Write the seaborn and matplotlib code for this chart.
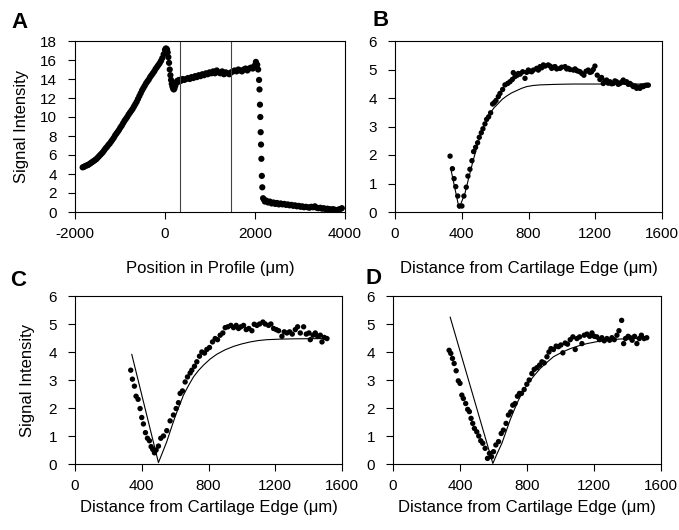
import numpy as np
import pandas as pd
import matplotlib
matplotlib.use("Agg")
import matplotlib.pyplot as plt
import seaborn as sns

# ---------------- Panel A data ----------------
a_x = [-1830, -1800, -1770, -1740, -1710, -1680, -1650, -1620, -1590, -1560, -1530, -1500,
       -1470, -1440, -1410, -1380, -1350, -1320, -1290, -1260, -1230, -1200, -1170, -1140,
       -1110, -1080, -1050, -1020, -990, -960, -930, -900, -870, -840, -810, -780, -750,
       -720, -690, -660, -630, -600, -570, -540, -510, -480, -450, -420, -390, -360, -330,
       -300, -270, -240, -210, -180, -150, -120, -90, -60, -30, 0,
       15, 30, 45, 60, 75, 90, 105, 120, 135, 150, 165, 180, 195, 210, 230, 250, 270, 290, 310, 330,
       350, 390, 430, 470, 510, 550, 590, 630, 670, 710, 750, 790, 830, 870, 910, 950, 990,
       1030, 1070, 1110, 1150, 1190, 1230, 1270, 1310, 1350, 1390, 1430, 1470, 1510, 1550,
       1590, 1630, 1670, 1710, 1750, 1790, 1830, 1870, 1910, 1950, 1990, 2020, 2050, 2070,
       2090, 2100, 2110, 2118, 2126, 2134, 2142, 2152, 2162,
       2180, 2200, 2220, 2250, 2290, 2330, 2370, 2410, 2450, 2490, 2530, 2570, 2610, 2650,
       2690, 2730, 2770, 2810, 2850, 2890, 2930, 2970, 3010, 3050, 3090, 3130, 3170, 3210,
       3250, 3290, 3330, 3370, 3410, 3450, 3490, 3530, 3570, 3610, 3650, 3690, 3730, 3770,
       3810, 3850, 3890, 3930]
a_y = [4.70, 4.75, 4.85, 4.90, 4.95, 5.05, 5.15, 5.25, 5.35, 5.45, 5.55, 5.70,
       5.85, 6.00, 6.15, 6.30, 6.50, 6.70, 6.85, 7.05, 7.20, 7.40, 7.60, 7.80,
       8.05, 8.25, 8.45, 8.65, 8.90, 9.10, 9.35, 9.60, 9.80, 10.00, 10.25, 10.45, 10.65,
       10.85, 11.10, 11.35, 11.60, 11.90, 12.20, 12.50, 12.80, 13.05, 13.30, 13.55, 13.75, 13.95, 14.20,
       14.40, 14.60, 14.80, 15.05, 15.25, 15.45, 15.65, 15.90, 16.20, 16.60, 17.05,
       17.2, 17.2, 17.1, 16.8, 16.3, 15.7, 15.0, 14.4, 13.9, 13.5, 13.2, 13.0, 12.9, 13.0, 13.3, 13.6, 13.8, 13.7, 13.9, 13.9,
       13.8, 14.0, 13.9, 14.0, 14.1, 14.0, 14.2, 14.1, 14.3, 14.2, 14.4, 14.3, 14.5, 14.4, 14.6, 14.5, 14.7,
       14.6, 14.8, 14.6, 14.9, 14.7, 14.6, 14.8, 14.5, 14.7, 14.6, 14.5, 14.7, 14.8, 14.9,
       14.8, 15.0, 14.9, 14.8, 15.0, 15.1, 14.9, 15.1, 15.2, 15.1, 15.4, 15.8, 15.5, 15.0,
       13.9, 12.9, 11.3, 10.0, 8.4, 7.1, 5.6, 3.8, 2.6,
       1.45, 1.3, 1.1, 1.2, 1.0, 1.1, 0.9, 1.0, 0.85, 0.95, 0.8, 0.9, 0.8, 0.85,
       0.75, 0.8, 0.7, 0.75, 0.65, 0.7, 0.6, 0.65, 0.55, 0.6, 0.5, 0.55, 0.5, 0.45,
       0.55, 0.5, 0.6, 0.45, 0.4, 0.45, 0.35, 0.4, 0.3, 0.35, 0.3, 0.25, 0.3, 0.25,
       0.2, 0.25, 0.3, 0.4]
a_vlines = [330, 1470]

# ---------------- Panel B data ----------------
b_x = [330, 344, 354, 364, 376, 386, 401, 413, 427, 437, 449, 461, 471, 483, 495, 505, 517, 527,
       539, 549, 561, 573, 585, 595, 605, 619, 629, 645, 659, 675, 689, 703, 709, 719, 733, 739,
       750, 765, 779, 789, 799, 809, 819, 829, 849, 859, 869, 879, 889, 899, 918, 929, 939, 949,
       959, 969, 989, 999, 1019, 1029, 1039, 1049, 1069, 1079, 1089, 1099, 1109, 1120, 1132,
       1145, 1158, 1168, 1178, 1188, 1198, 1212, 1228, 1238, 1248, 1258, 1268, 1278, 1288, 1298,
       1308, 1318, 1328, 1338, 1348, 1358, 1368, 1378, 1388, 1398, 1408, 1418, 1428, 1438, 1448,
       1458, 1468, 1478, 1488, 1498, 1508, 1518]
b_y = [1.96, 1.52, 1.17, 0.89, 0.56, 0.21, 0.21, 0.56, 0.87, 1.26, 1.50, 1.80, 2.12, 2.27, 2.43, 2.62, 2.78, 2.92,
       3.09, 3.25, 3.34, 3.48, 3.79, 3.84, 3.91, 4.05, 4.16, 4.30, 4.46, 4.51, 4.57, 4.65, 4.89, 4.75, 4.80, 4.86,
       4.84, 4.92, 4.69, 4.90, 4.98, 4.94, 4.92, 4.98, 5.04, 4.98, 5.10, 5.06, 5.16, 5.12, 5.16, 5.12, 5.04, 5.08,
       5.10, 5.02, 5.04, 5.08, 5.10, 5.02, 5.04, 5.00, 4.98, 5.02, 4.96, 4.94, 4.92, 4.86, 4.80,
       4.94, 4.98, 4.90, 4.92, 5.00, 5.12, 4.80, 4.65, 4.72, 4.51, 4.60, 4.63, 4.52, 4.57, 4.50,
       4.51, 4.60, 4.57, 4.48, 4.51, 4.56, 4.63, 4.55, 4.57, 4.48, 4.51, 4.46, 4.40, 4.42, 4.34,
       4.38, 4.34, 4.42, 4.40, 4.44, 4.45, 4.45]
b_fit_x = [336, 384, 419, 444, 469, 494, 519, 544, 569, 594, 619, 644, 669, 699, 729, 759, 789, 829, 869, 969, 1069, 1520]
b_fit_y = [1.47, 0.13, 0.65, 1.25, 1.82, 2.35, 2.82, 3.18, 3.46, 3.66, 3.81, 3.96, 4.07, 4.18, 4.26, 4.34, 4.40, 4.44, 4.46, 4.48, 4.49, 4.49]

# ---------------- Panel C data ----------------
c_x = [334, 344, 356, 366, 378, 390, 400, 410, 422, 434, 446, 456, 466, 476, 486, 500, 514, 530, 550, 570,
       590, 606, 620, 630, 644, 660, 674, 690, 700, 716, 730, 746, 760, 776, 790, 806, 824, 840, 854, 870,
       886, 900, 916, 934, 950, 966, 980, 994, 1010, 1026, 1042, 1060, 1074, 1090, 1106, 1126, 1140, 1160,
       1174, 1190, 1206, 1220, 1240, 1254, 1270, 1286, 1302, 1320, 1334, 1350, 1370, 1386, 1402, 1410, 1426,
       1440, 1454, 1470, 1480, 1494, 1510]
c_y = [3.35, 3.03, 2.78, 2.42, 2.31, 1.98, 1.66, 1.43, 1.12, 0.92, 0.83, 0.62, 0.52, 0.40, 0.50, 0.64, 0.92, 1.00, 1.19, 1.54,
       1.75, 1.98, 2.19, 2.52, 2.61, 2.93, 3.11, 3.25, 3.35, 3.49, 3.65, 3.85, 4.00, 3.96, 4.09, 4.16, 4.36, 4.48, 4.44, 4.60,
       4.68, 4.87, 4.90, 4.95, 4.87, 4.95, 4.84, 4.90, 4.95, 4.80, 4.84, 4.76, 4.99, 4.95, 5.00, 5.07, 5.00, 4.95,
       5.00, 4.84, 4.80, 4.76, 4.56, 4.72, 4.68, 4.72, 4.64, 4.80, 4.90, 4.68, 4.90, 4.64, 4.68, 4.44, 4.60,
       4.68, 4.56, 4.60, 4.36, 4.52, 4.48]
c_fit_x = [340, 500, 525, 550, 575, 600, 625, 650, 680, 710, 740, 770, 810, 850, 900, 950, 1000, 1050, 1100, 1150, 1230, 1310, 1500]
c_fit_y = [3.92, 0.05, 0.42, 0.80, 1.25, 1.69, 2.08, 2.46, 2.80, 3.11, 3.34, 3.53, 3.75, 3.92, 4.08, 4.20, 4.29, 4.36, 4.41, 4.44, 4.46, 4.47, 4.48]

# ---------------- Panel D data ----------------
d_x = [335, 345, 355, 365, 377, 390, 400, 411, 420, 434, 446, 456, 466, 476, 486, 500, 512, 524, 536, 550,
       564, 576, 588, 600, 614, 630, 646, 659, 675, 689, 703, 715, 729, 743, 755, 767, 783, 799, 813, 829,
       843, 859, 875, 889, 903, 919, 931, 943, 958, 974, 988, 1002, 1014, 1028, 1042, 1058, 1074, 1088, 1098,
       1114, 1128, 1142, 1158, 1174, 1188, 1202, 1217, 1233, 1247, 1261, 1277, 1293, 1307, 1321, 1337, 1349,
       1365, 1377, 1388, 1404, 1416, 1428, 1442, 1456, 1470, 1483, 1499, 1515]
d_y = [4.06, 3.95, 3.77, 3.59, 3.33, 2.97, 2.88, 2.46, 2.34, 2.16, 1.95, 1.87, 1.63, 1.45, 1.27, 1.15, 1.00, 0.83, 0.74, 0.56,
       0.20, 0.38, 0.26, 0.44, 0.68, 0.80, 1.09, 1.21, 1.45, 1.75, 1.86, 2.10, 2.16, 2.42, 2.52, 2.52, 2.66, 2.85, 3.00, 3.23,
       3.38, 3.44, 3.53, 3.65, 3.61, 3.83, 4.00, 4.12, 4.09, 4.21, 4.19, 4.25, 3.97, 4.32, 4.28, 4.44, 4.54, 4.09, 4.48,
       4.54, 4.30, 4.60, 4.64, 4.56, 4.68, 4.56, 4.54, 4.44, 4.51, 4.40, 4.48, 4.42, 4.51, 4.44, 4.60, 4.76,
       5.13, 4.30, 4.48, 4.56, 4.51, 4.42, 4.56, 4.30, 4.48, 4.60, 4.48, 4.51]
d_fit_x = [341, 596, 620, 650, 675, 699, 724, 749, 774, 799, 839, 879, 919, 958, 1008, 1058, 1108, 1158, 1218, 1277, 1347, 1417, 1500]
d_fit_y = [5.25, 0.02, 0.35, 0.74, 1.16, 1.57, 1.94, 2.28, 2.57, 2.82, 3.13, 3.41, 3.63, 3.83, 3.99, 4.12, 4.22, 4.30, 4.37, 4.42, 4.46, 4.48, 4.49]

a_xticks = [-2000, 0, 2000, 4000]
a_yticks = [0, 2, 4, 6, 8, 10, 12, 14, 16, 18]
bcd_xticks = [0, 400, 800, 1200, 1600]
bcd_yticks = [0, 1, 2, 3, 4, 5, 6]
xlabel_a = "Position in Profile (\u03bcm)"
xlabel_bcd = "Distance from Cartilage Edge (\u03bcm)"
ylabel = "Signal Intensity"

# ---------------- Style ----------------
sns.set_style("ticks")
plt.rcParams['font.family'] = ['Liberation Sans', 'DejaVu Sans']
plt.rcParams['axes.linewidth'] = 0.8
plt.rcParams['axes.unicode_minus'] = False
plt.rcParams['text.color'] = 'black'
plt.rcParams['axes.labelcolor'] = 'black'
plt.rcParams['xtick.color'] = 'black'
plt.rcParams['ytick.color'] = 'black'
plt.rcParams['axes.edgecolor'] = 'black'

fig = plt.figure(figsize=(6.79, 5.30), dpi=100)
W, H = 679.0, 530.0

def make_ax(l, r, t, b):
    return fig.add_axes([l / W, 1 - b / H, (r - l) / W, (b - t) / H])

axA = make_ax(75, 345, 41, 212)
axB = make_ax(395, 662, 41, 212)
axC = make_ax(75, 342, 296, 464)
axD = make_ax(393, 661, 296, 464)

def style(ax, xlim, ylim, xt, yt):
    ax.set_xlim(*xlim)
    ax.set_ylim(*ylim)
    ax.set_xticks(xt)
    ax.set_yticks(yt)
    for s in ax.spines.values():
        s.set_visible(True)
        s.set_color("black")
        s.set_linewidth(0.8)
    ax.tick_params(axis='both', direction='out', length=5, width=0.8, labelsize=11,
                   colors='black', labelcolor='black')
    ax.tick_params(axis='x', pad=6)
    ax.tick_params(axis='y', pad=8)
    ax.set_facecolor('white')

# Panel A
sns.scatterplot(x=a_x, y=a_y, ax=axA, color='black', s=20, edgecolor='none', linewidth=0)
for v in a_vlines:
    axA.axvline(v, color='#444444', lw=0.8)
style(axA, (-2000, 4000), (0, 18), a_xticks, a_yticks)
axA.set_xlabel(xlabel_a, fontsize=12, labelpad=14, color='black')
axA.set_ylabel(ylabel, fontsize=12, labelpad=8, color='black')

# Panel B
sns.scatterplot(x=b_x, y=b_y, ax=axB, color='black', s=15, edgecolor='none', linewidth=0)
sns.lineplot(x=b_fit_x, y=b_fit_y, ax=axB, color='black', lw=0.8, sort=False, estimator=None)
style(axB, (0, 1600), (0, 6), bcd_xticks, bcd_yticks)
axB.set_xlabel(xlabel_bcd, fontsize=12, labelpad=14, color='black')

# Panel C
sns.scatterplot(x=c_x, y=c_y, ax=axC, color='black', s=15, edgecolor='none', linewidth=0)
sns.lineplot(x=c_fit_x, y=c_fit_y, ax=axC, color='black', lw=0.8, sort=False, estimator=None)
style(axC, (0, 1600), (0, 6), bcd_xticks, bcd_yticks)
axC.set_xlabel(xlabel_bcd, fontsize=12, labelpad=5, color='black')
axC.set_ylabel(ylabel, fontsize=12, labelpad=10, color='black')

# Panel D
sns.scatterplot(x=d_x, y=d_y, ax=axD, color='black', s=15, edgecolor='none', linewidth=0)
sns.lineplot(x=d_fit_x, y=d_fit_y, ax=axD, color='black', lw=0.8, sort=False, estimator=None)
style(axD, (0, 1600), (0, 6), bcd_xticks, bcd_yticks)
axD.set_xlabel(xlabel_bcd, fontsize=12, labelpad=5, color='black')

# Panel letters
for lab, (px, py) in {"A": (20, 22), "B": (381, 21), "C": (18, 281), "D": (373, 279)}.items():
    fig.text(px / W, 1 - py / H, lab, fontsize=16, fontweight='bold', ha='center', va='center',
             color='black')

fig.savefig("out.png", dpi=100, facecolor='white')
